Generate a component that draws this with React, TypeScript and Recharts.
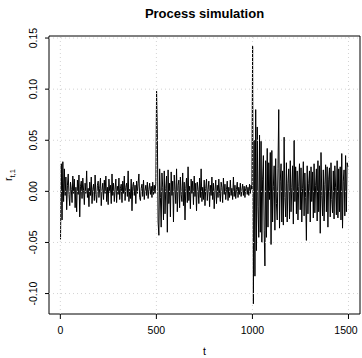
import React from "react";
import {
  LineChart,
  Line,
  XAxis,
  YAxis,
  ReferenceLine,
  ReferenceArea,
  Customized,
} from "recharts";

// values, one every 4 steps of t
const seg1 = [
  -0.047, 0.027, -0.028, 0.029, -0.01, 0.022, -0.004, 0.014, -0.018, 0.006, 0.017, -0.003, -0.014, 0.009, 0.002, -0.011, 0.015, -0.002, 0.012, -0.016,
  0.004, -0.02, 0.011, -0.003, 0.016, -0.025, 0.005, 0.01, -0.007, 0.013, 0.001, -0.013, 0.008, -0.002, 0.02, -0.006, 0.003, -0.015, 0.009, -0.004,
  0.014, -0.012, 0.002, 0.007, -0.009, 0.016, -0.003, -0.011, 0.006, 0.01, -0.006, 0.003, 0.013, -0.014, 0.001, 0.008, -0.008, 0.011, -0.002, 0.015,
  -0.01, 0.004, -0.013, 0.012, -0.001, 0.006, -0.012, 0.017, -0.004, 0.008, -0.01, 0.002, 0.012, -0.011, 0.005, -0.003, 0.013, -0.008, 0.003, 0.007,
  -0.011, 0.01, -0.002, 0.015, -0.009, 0.004, 0.008, -0.005, 0.02, -0.01, 0.002, -0.007, 0.012, -0.019, 0.005, 0.009, -0.004, 0.006, -0.012, 0.01,
  -0.002, 0.008, 0.017, -0.006, -0.009, 0.003, 0.007, -0.005, 0.011, -0.008, 0.001, 0.006, -0.004, 0.009, -0.007, 0.002, 0.008, -0.003, 0.005, -0.006,
  0.009, -0.003, 0.006, -0.002, 0.008,
];

const seg2 = [
  0.098, 0.057, -0.03, -0.043, 0.022, -0.006, -0.035, 0.018, 0.004, -0.028, 0.02, -0.022, 0.003, 0.015, -0.04, 0.021, -0.012, 0.008, -0.025, 0.019,
  -0.004, 0.01, -0.03, 0.016, 0.002, -0.012, 0.022, -0.02, 0.006, 0.011, -0.016, 0.014, -0.003, -0.01, 0.018, -0.014, 0.009, -0.028, 0.003, 0.013,
  -0.011, 0.024, -0.009, 0.005, -0.017, 0.012, -0.002, 0.01, -0.013, 0.015, -0.005, 0.008, -0.019, 0.009, 0.002, -0.012, 0.013, -0.006, 0.022, -0.01,
  0.004, -0.008, 0.011, -0.014, 0.003, 0.012, -0.009, 0.002, 0.01, -0.015, 0.006, -0.004, 0.014, -0.008, 0.008, -0.017, 0.001, 0.011, -0.012, 0.006,
  -0.006, 0.012, -0.002, -0.01, 0.009, 0.004, -0.011, 0.013, -0.003, 0.007, -0.008, 0.002, 0.01, -0.009, 0.004, -0.006, 0.011, -0.004, 0.003, -0.008,
  0.014, -0.005, 0.006, -0.007, 0.002, 0.009, -0.006, 0.004, -0.003, 0.008, -0.005, 0.001, 0.007, -0.004, 0.005, -0.006, 0.003, 0.006, -0.003, 0.004,
  -0.004, 0.007, -0.002, 0.006, 0.002,
];

const seg3 = [
  0.142, -0.11, 0.05, -0.083, 0.08, -0.058, 0.063, -0.015, -0.045, 0.055, -0.04, 0.049, -0.05, 0.012, 0.035, -0.038, -0.073, 0.03, -0.045, 0.042,
  -0.035, 0.028, -0.008, 0.038, -0.052, 0.04, -0.03, 0.005, 0.025, -0.038, 0.032, -0.012, -0.028, 0.022, 0.08, -0.036, 0.01, 0.027, -0.03, 0.02,
  -0.033, 0.053, -0.006, -0.025, 0.028, -0.03, 0.008, 0.022, -0.027, 0.03, -0.02, 0.004, 0.025, -0.032, 0.05, -0.01, 0.024, -0.022, 0.02, -0.028,
  0.005, 0.027, -0.018, 0.023, -0.03, 0.003, 0.029, -0.024, 0.018, -0.006, -0.048, 0.025, -0.022, 0.008, 0.02, -0.03, 0.024, -0.01, 0.019, -0.026,
  0.027, -0.021, 0.006, 0.022, -0.029, 0.03, -0.02, 0.025, -0.041, 0.038, -0.004, -0.024, 0.021, -0.029, 0.007, 0.026, -0.02, 0.024, -0.035, 0.012,
  0.023, -0.025, 0.028, -0.008, -0.021, 0.02, -0.027, 0.025, 0.004, -0.023, 0.03, -0.026, 0.022, -0.02, 0.024, -0.028, 0.037, -0.036, 0.01, 0.021,
  -0.024, 0.035, -0.02, 0.028, 0.024,
];

const xTicks = [0, 500, 1000, 1500];
const yTicks = [-0.1, -0.05, 0, 0.05, 0.1, 0.15];

const values = [...seg1, ...seg2, ...seg3];
const data = values.map((r, i) => ({ t: 1 + i * 4, r }));

const font = "'Liberation Sans', Arial, Helvetica, sans-serif";

const XTick = (props: any) => (
  <text x={props.x} y={334} textAnchor="middle" fontSize={10.5} fontFamily={font} fill="#000">
    {props.payload.value}
  </text>
);

const YTick = (props: any) => (
  <text
    transform={`translate(36.7, ${props.y}) rotate(-90)`}
    textAnchor="middle"
    fontSize={10.5}
    fontFamily={font}
    fill="#000"
  >
    {Number(props.payload.value).toFixed(2)}
  </text>
);

const Labels = () => (
  <g fontFamily={font} fill="#000">
    <text x={204.5} y={18} textAnchor="middle" fontSize={13} fontWeight="bold">
      Process simulation
    </text>
    <text x={204.5} y={355} textAnchor="middle" fontSize={10.5}>
      t
    </text>
    <text transform="translate(12, 181) rotate(-90)" fontSize={10.5}>
      r
      <tspan fontSize={7.5} dy={3}>
        t,1
      </tspan>
    </text>
  </g>
);

export default function App() {
  return (
    <div style={{ position: "absolute", left: 0, top: 0, background: "#fff" }}>
      <LineChart width={362} height={358} data={data} margin={{ top: 36, right: 2, bottom: 0, left: 0 }}>
        <XAxis
          dataKey="t"
          type="number"
          domain={[-59, 1560]}
          allowDataOverflow
          ticks={xTicks}
          height={44}
          axisLine={false}
          tickSize={5}
          tickLine={{ stroke: "#000" }}
          tick={XTick}
        />
        <YAxis
          type="number"
          domain={[-0.12, 0.152]}
          allowDataOverflow
          ticks={yTicks}
          width={49}
          axisLine={false}
          tickSize={4}
          tickLine={{ stroke: "#000" }}
          tick={YTick}
        />
        <Line
          dataKey="r"
          type="linear"
          stroke="#000"
          strokeWidth={1}
          dot={false}
          isAnimationActive={false}
        />
        {xTicks.map((v) => (
          <ReferenceLine key={"x" + v} x={v} stroke="#d3d3d3" strokeDasharray="1 3" />
        ))}
        {yTicks.map((v) => (
          <ReferenceLine key={"y" + v} y={v} stroke="#d3d3d3" strokeDasharray="1 3" />
        ))}
        <ReferenceArea x1={-59} x2={1560} y1={-0.12} y2={0.152} fill="none" stroke="#000" strokeWidth={1} />
        <Customized component={Labels} />
      </LineChart>
    </div>
  );
}
